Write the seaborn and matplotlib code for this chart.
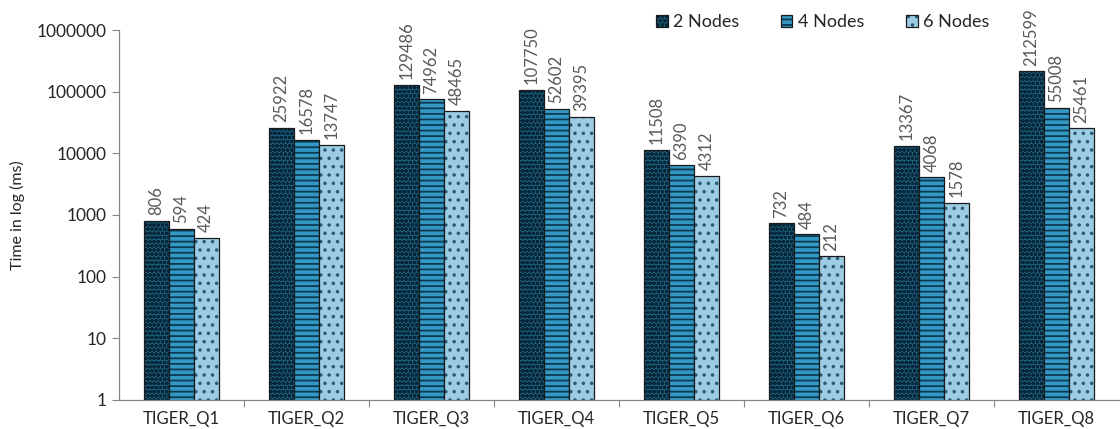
import matplotlib
matplotlib.use("Agg")
import matplotlib.pyplot as plt
import seaborn as sns
import pandas as pd

queries = ["TIGER_Q1", "TIGER_Q2", "TIGER_Q3", "TIGER_Q4",
           "TIGER_Q5", "TIGER_Q6", "TIGER_Q7", "TIGER_Q8"]
series_names = ["2 Nodes", "4 Nodes", "6 Nodes"]
nodes2 = [806, 25922, 129486, 107750, 11508, 732, 13367, 212599]
nodes4 = [594, 16578, 74962, 52602, 6390, 484, 4068, 55008]
nodes6 = [424, 13747, 48465, 39395, 4312, 212, 1578, 25461]
y_ticks = [1, 10, 100, 1000, 10000, 100000, 1000000]

colors = ["#0e6890", "#1ba2dc", "#90d0f0"]
hatches = ["oooo", "---", ".."]
hatch_colors = ["#06263a", "#0c3a52", "#2a5a74"]

rows = []
for name, vals in zip(series_names, [nodes2, nodes4, nodes6]):
    for q, v in zip(queries, vals):
        rows.append({"Query": q, "Series": name, "Time": v})
df = pd.DataFrame(rows)

sns.set_theme(style="white")
plt.rcParams["font.family"] = ["Lato", "DejaVu Sans"]
plt.rcParams["hatch.linewidth"] = 1.3

fig = plt.figure(figsize=(11.2, 4.29), dpi=100)
ax = fig.add_axes([0.106, 0.068, 0.893, 0.862])

sns.barplot(data=df, x="Query", y="Time", hue="Series", order=queries,
            hue_order=series_names, palette=colors, width=0.6,
            edgecolor="#1a1a1a", linewidth=0.9, ax=ax, legend=True)

ax.set_yscale("log")
ax.set_ylim(1, 1000000)
ax.set_yticks(y_ticks)
ax.set_yticklabels([str(t) for t in y_ticks])
ax.minorticks_off()
ax.set_xlim(-0.5, len(queries) - 0.5)

for i, cont in enumerate(ax.containers):
    for bar in cont:
        bar.set_hatch(hatches[i])
        bar._hatch_color = matplotlib.colors.to_rgba(hatch_colors[i])
    ax.bar_label(cont, labels=[str(v) for v in [nodes2, nodes4, nodes6][i]],
                 rotation=90, padding=4, fontsize=12, color="#595959")

ax.set_xlabel("")
ax.set_ylabel("Time in log (ms)", fontsize=11.5, color="#262626", labelpad=8)
ax.tick_params(axis="y", labelsize=12.5, labelcolor="#262626", length=5,
               width=0.8, left=True, direction="out", pad=4, color="#868686")
ax.tick_params(axis="x", labelsize=12, labelcolor="#262626", length=0, pad=8)

# category separators on the x axis
ax.set_xticks([i + 0.5 for i in range(len(queries) - 1)], minor=True)
ax.tick_params(axis="x", which="minor", length=5, width=0.8, color="#868686",
               bottom=True)

for side in ["top", "right"]:
    ax.spines[side].set_visible(False)
for side in ["left", "bottom"]:
    ax.spines[side].set_color("#868686")
    ax.spines[side].set_linewidth(0.9)

handles, labels = ax.get_legend_handles_labels()
for i, h in enumerate(handles):
    h.set_hatch(hatches[i])
    h._hatch_color = matplotlib.colors.to_rgba(hatch_colors[i])
ax.legend(handles, labels, loc="center left", bbox_to_anchor=(0.537, 1.022),
          ncol=3, frameon=False, fontsize=13, handlelength=0.65,
          handleheight=0.65, handletextpad=0.3, columnspacing=2.3,
          borderpad=0, borderaxespad=0)

fig.savefig("out.png", dpi=100)
